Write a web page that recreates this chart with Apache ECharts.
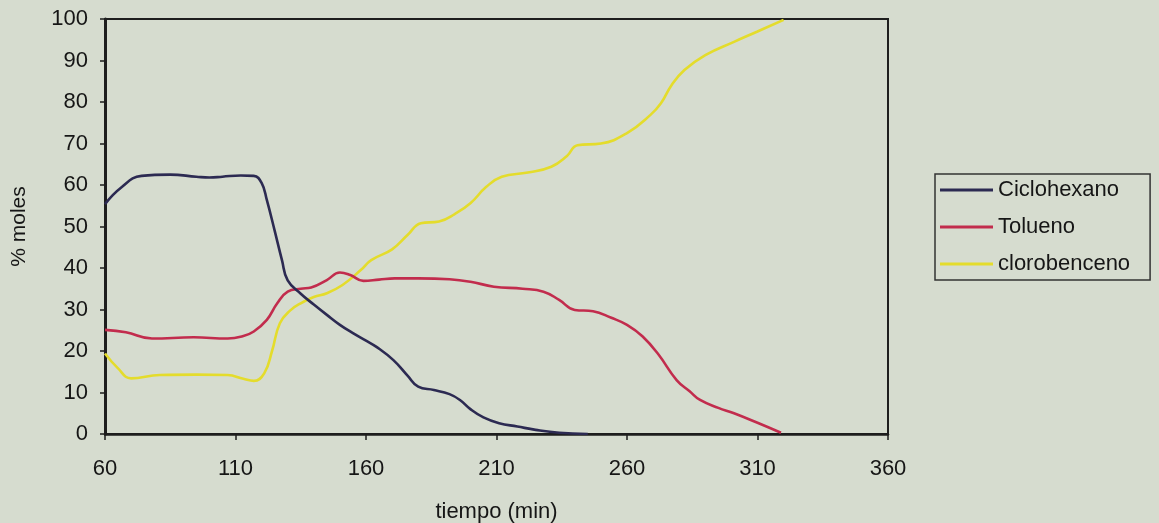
<!DOCTYPE html>
<html>
<head>
<meta charset="utf-8">
<script src="https://cdn.jsdelivr.net/npm/echarts@6/dist/echarts.min.js"></script>
<style>
  html, body { margin: 0; padding: 0; background: #D6DCCF; }
  #chart { width: 1159px; height: 523px; }
</style>
</head>
<body>
<div id="chart"></div>
<script>
// Composición del destilado (% moles) frente al tiempo (min)
const seriesNames = ['Ciclohexano', 'Tolueno', 'clorobenceno'];
const seriesColors = ['#2C2A52', '#C22C4D', '#E4DC2C'];

const xTicks = [60, 110, 160, 210, 260, 310, 360];
const yTicks = [0, 10, 20, 30, 40, 50, 60, 70, 80, 90, 100];

const tCiclohexano = [60, 66, 74, 85, 95, 100, 105, 112, 117, 120, 122, 125, 127.8, 130, 135, 140, 145, 150, 155, 160, 164, 170.5, 176, 180, 186, 192, 196, 200, 205, 211, 218, 225, 234, 245];
const yCiclohexano = [55.4, 59.3, 62.2, 62.5, 62.0, 61.8, 62.0, 62.3, 62.2, 60.5, 56.4, 49.0, 41.9, 37.0, 33.8, 31.2, 28.7, 26.3, 24.3, 22.5, 21.0, 17.8, 14.0, 11.4, 10.6, 9.6, 8.2, 6.0, 4.0, 2.6, 1.8, 1.0, 0.3, 0];

const tTolueno = [60, 68, 78, 94, 107, 113, 117, 122, 126, 130, 135, 139, 145, 150, 154, 159, 165, 171, 180, 192, 200, 209, 220, 228, 234, 240, 247, 254, 260, 266, 272, 279, 284, 288, 295, 301, 310, 319];
const yTolueno = [25.1, 24.5, 23.0, 23.3, 23.0, 23.6, 24.7, 27.5, 31.5, 34.3, 35.0, 35.3, 37.1, 38.9, 38.3, 36.9, 37.2, 37.5, 37.5, 37.3, 36.7, 35.5, 35.0, 34.3, 32.3, 29.9, 29.6, 28.0, 26.3, 23.5, 19.2, 13.0, 10.3, 8.2, 6.3, 5.0, 2.7, 0.3];

const tClorobenceno = [60, 65, 70, 81, 95, 107, 113, 117, 121, 124, 127, 131, 135, 140, 145, 151, 158, 162, 170, 176, 181, 188, 194, 200, 206, 212, 222, 231, 237, 241, 250, 260, 269, 273, 277, 282, 290, 301, 310, 320];
const yClorobenceno = [19.4, 15.8, 13.4, 14.2, 14.3, 14.2, 13.3, 12.8, 14.6, 20.0, 26.7, 29.8, 31.5, 33.0, 33.9, 35.9, 39.5, 41.9, 44.5, 48.0, 50.8, 51.2, 53.0, 55.6, 59.5, 62.0, 63.0, 64.4, 67.0, 69.6, 70.0, 72.5, 76.9, 79.7, 84.0, 87.7, 91.3, 94.5, 97.0, 99.8];

const pairs = (ts, ys) => ts.map((t, i) => [t, ys[i]]);
const seriesData = [
  pairs(tCiclohexano, yCiclohexano),
  pairs(tTolueno, yTolueno),
  pairs(tClorobenceno, yClorobenceno)
];

const FONT = '"Liberation Sans", Arial, sans-serif';
const INK = '#161616';

const chart = echarts.init(document.getElementById('chart'), null, { renderer: 'canvas' });
chart.setOption({
  backgroundColor: '#D6DCCF',
  animation: false,
  grid: {
    left: 105, right: 271, top: 19, bottom: 89,
    containLabel: false,
    outerBoundsMode: 'none',
    show: true, borderColor: '#1E1E1E', borderWidth: 2, backgroundColor: 'transparent'
  },
  legend: {
    orient: 'vertical',
    left: 935, top: 174,
    padding: [5, 20, 5, 5],
    itemGap: 15,
    itemWidth: 53, itemHeight: 3,
    icon: 'rect',
    borderColor: '#333333', borderWidth: 1.5,
    textStyle: { fontFamily: FONT, fontSize: 22, color: INK },
    data: seriesNames
  },
  xAxis: {
    type: 'value',
    min: xTicks[0], max: xTicks[xTicks.length - 1], interval: 50,
    name: 'tiempo (min)', nameLocation: 'middle', nameGap: 67,
    nameTextStyle: { fontFamily: FONT, fontSize: 22, color: INK },
    axisLine: { show: true, lineStyle: { color: '#1E1E1E', width: 2.5 } },
    axisTick: { show: true, inside: false, length: 6, lineStyle: { color: '#1E1E1E', width: 1.5 } },
    axisLabel: { margin: 24, fontFamily: FONT, fontSize: 22, color: INK },
    splitLine: { show: false }
  },
  yAxis: {
    type: 'value',
    min: yTicks[0], max: yTicks[yTicks.length - 1], interval: 10,
    name: '% moles', nameLocation: 'middle', nameGap: 75, nameRotate: 90,
    nameTextStyle: { fontFamily: FONT, fontSize: 21, color: INK },
    axisLine: { show: true, lineStyle: { color: '#1E1E1E', width: 3 } },
    axisTick: { show: true, inside: false, length: 5, lineStyle: { color: '#1E1E1E', width: 1.5 } },
    axisLabel: { margin: 17, fontFamily: FONT, fontSize: 22, color: INK },
    splitLine: { show: false }
  },
  series: seriesNames.map((name, i) => ({
    name,
    type: 'line',
    data: seriesData[i],
    smooth: 0.45,
    showSymbol: false,
    symbol: 'none',
    color: seriesColors[i],
    lineStyle: { color: seriesColors[i], width: 2.6 },
    z: 3 - i
  }))
});
</script>
</body>
</html>
